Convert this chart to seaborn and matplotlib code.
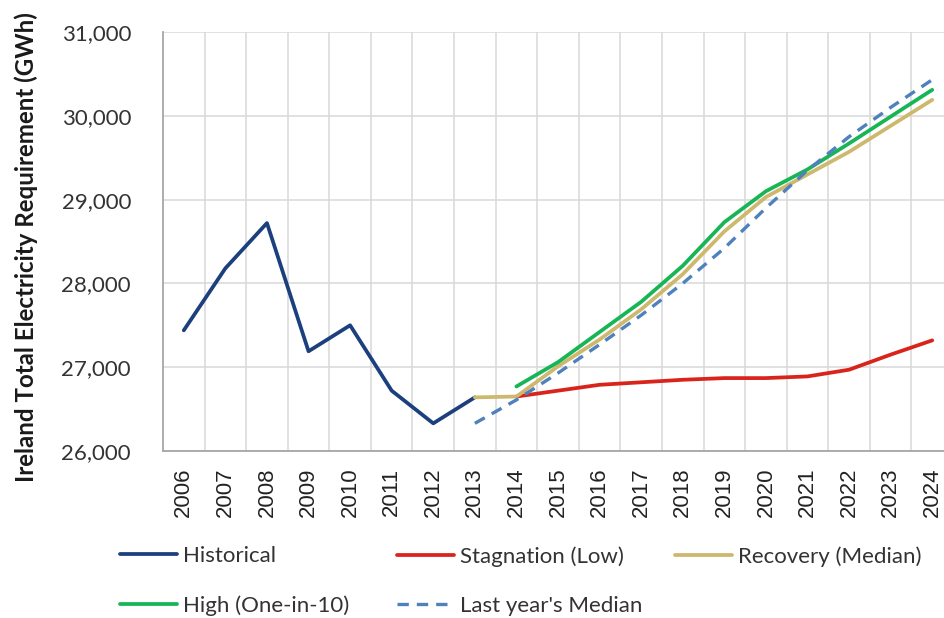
import matplotlib
matplotlib.use("Agg")
import matplotlib.pyplot as plt
from matplotlib.ticker import FuncFormatter, MultipleLocator
import seaborn as sns

# values (GWh)
years = list(range(2006, 2025))
hist_years = list(range(2006, 2014))
historical = [27440, 28180, 28720, 27190, 27500, 26720, 26330, 26640]

stag_years = list(range(2014, 2025))
stagnation = [26650, 26720, 26790, 26820, 26850, 26870, 26870, 26890, 26970, 27150, 27320]

rec_years = list(range(2013, 2025))
recovery = [26640, 26650, 27010, 27330, 27690, 28110, 28620, 29030, 29300, 29570, 29880, 30190]

high_years = list(range(2014, 2025))
high = [26770, 27060, 27420, 27780, 28210, 28730, 29100, 29360, 29670, 29990, 30310]

last_years = list(range(2013, 2025))
last_median = [26330, 26610, 26930, 27270, 27620, 28000, 28420, 28900, 29350, 29750, 30100, 30430]

sns.set_style("white")
plt.rcParams["font.family"] = ["Lato", "DejaVu Sans"]

fig = plt.figure(figsize=(9.44, 6.18), dpi=100)
ax = fig.add_axes([163 / 944, 1 - 451 / 618, 790 / 944, 419 / 618])

sns.lineplot(x=hist_years, y=historical, color="#1C3F7E", lw=2.7, label="Historical", ax=ax)
sns.lineplot(x=stag_years, y=stagnation, color="#D9241C", lw=2.7, label="Stagnation (Low)", ax=ax)
sns.lineplot(x=rec_years, y=recovery, color="#CDB86E", lw=2.7, label="Recovery (Median)", ax=ax)
sns.lineplot(x=high_years, y=high, color="#17B556", lw=2.7, label="High (One-in-10)", ax=ax)
sns.lineplot(x=last_years, y=last_median, color="#4F81BD", lw=2.4, label="Last year's Median",
             linestyle=(0, (3.4, 2.4)), ax=ax)

ax.set_xlim(2005.5, 2024.5)
ax.set_ylim(26000, 31000)
ax.yaxis.set_major_locator(MultipleLocator(1000))
ax.yaxis.set_major_formatter(FuncFormatter(lambda v, p: f"{int(v):,}"))

ax.set_xticks(years)
ax.set_xticklabels([str(y) for y in years], rotation=90, fontsize=16,
                   family=["Liberation Sans", "DejaVu Sans"], color="#222222")
ax.set_xticks([y - 0.5 for y in years[1:]], minor=True)
ax.tick_params(axis="x", which="major", length=0, pad=12)
ax.tick_params(axis="x", which="minor", length=6, width=1.2, color="#A6A6A6")
ax.tick_params(axis="y", length=6, width=1.2, color="#A6A6A6", pad=17,
               labelsize=16, labelcolor="#333333")

ax.grid(True, axis="y", color="#D9D9D9", lw=1.1)
ax.grid(True, axis="x", which="minor", color="#D9D9D9", lw=1.1)
for s in ["top", "right"]:
    ax.spines[s].set_visible(False)
for s in ["left", "bottom"]:
    ax.spines[s].set_color("#A6A6A6")
    ax.spines[s].set_linewidth(1.3)

ax.set_ylabel("Ireland Total Electricity Requirement (GWh)", fontsize=17.4,
              fontweight="bold", color="#1A1A1A")
ax.yaxis.set_label_coords(-0.158, 0.487)

handles, labels = ax.get_legend_handles_labels()
ax.get_legend().remove()
h = dict(zip(labels, handles))
columns = [(["Historical", "High (One-in-10)"], 120),
           (["Stagnation (Low)", "Last year's Median"], 397),
           (["Recovery (Median)"], 675)]
for names, x0 in columns:
    leg = fig.legend([h[n] for n in names], names, loc="upper left",
                     bbox_to_anchor=(x0 / 944, 1 - 546 / 618), frameon=False,
                     fontsize=16, handlelength=2.57, handletextpad=0.27,
                     labelspacing=1.33, borderpad=0, borderaxespad=0)
    for t in leg.get_texts():
        t.set_color("#333333")

fig.savefig("out.png", dpi=100)
